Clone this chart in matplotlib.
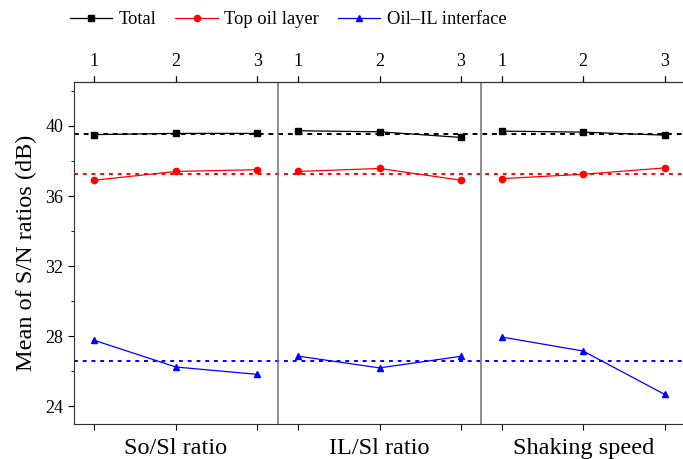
import numpy as np
import matplotlib
matplotlib.use("Agg")
import matplotlib.pyplot as plt
from matplotlib.ticker import MultipleLocator

plt.rcParams['font.family'] = ['Liberation Serif', 'DejaVu Serif']

factors = ["So/Sl ratio", "IL/Sl ratio", "Shaking speed"]
levels = [1, 2, 3]

total = [[39.50, 39.57, 39.57], [39.72, 39.66, 39.34], [39.70, 39.64, 39.47]]
top_oil = [[36.90, 37.40, 37.50], [37.40, 37.57, 36.90], [36.99, 37.24, 37.60]]
interface = [[27.77, 26.25, 25.83], [26.87, 26.20, 26.86], [27.96, 27.16, 24.69]]

mean_total = 39.55
mean_top = 37.27
mean_interface = 26.58

series = [
    ("Total", total, mean_total, "black", "s", (0, (2.5, 2.5))),
    ("Top oil layer", top_oil, mean_top, "red", "o", (0, (2, 2.5))),
    ("Oil\u2013IL interface", interface, mean_interface, "blue", "^", (0, (2, 2.5))),
]

span = 2.5
fig = plt.figure(figsize=(6.83, 4.59), dpi=100)
ax = fig.add_axes([74 / 683, 1 - 424 / 459, 611 / 683, (424 - 82) / 459])

for name, vals, mean, color, marker, ls in series:
    for k in range(len(factors)):
        x = np.array(levels) + k * span
        ax.plot(x, vals[k], color=color, marker=marker, markersize=4.5, lw=0.9,
                label=name if k == 0 else None)
    ax.axhline(mean, color=color, lw=1.4, ls=ls)

for k in range(1, len(factors)):
    ax.axvline(0.75 + k * span, color="#707070", lw=1.1)

xt = [lv + k * span for k in range(len(factors)) for lv in levels]
ax.set_xticks(xt)
ax.set_xticklabels([])
ax.set_xlim(0.75, 0.75 + span * len(factors))
ax.set_ylim(23, 42.5)
ax.yaxis.set_major_locator(MultipleLocator(4))
ax.yaxis.set_minor_locator(MultipleLocator(2))
ax.tick_params(axis="y", labelsize=13, length=4, direction="out")
ax.tick_params(axis="y", which="minor", length=2.5)
ax.tick_params(axis="x", length=4, top=True, direction="out")

top = ax.secondary_xaxis("top")
top.set_xticks(xt)
top.set_xticklabels([str(lv) for k in range(len(factors)) for lv in levels], fontsize=13)
top.tick_params(length=4, direction="out", pad=4.5)

for k, f in enumerate(factors):
    ax.text(2 + k * span, -0.088, f, transform=ax.get_xaxis_transform(),
            ha="center", va="baseline", fontsize=17.5)

ax.set_ylabel("Mean of S/N ratios (dB)", fontsize=17.5, labelpad=6)
for s in ax.spines.values():
    s.set_color("#303030")

fig.legend(loc="center left", bbox_to_anchor=(70 / 683, 1 - 20 / 459), ncol=3,
           frameon=False, fontsize=13.3, handlelength=2.3, handletextpad=0.35,
           columnspacing=1.0, borderaxespad=0, borderpad=0)

fig.savefig("out.png", dpi=100)
